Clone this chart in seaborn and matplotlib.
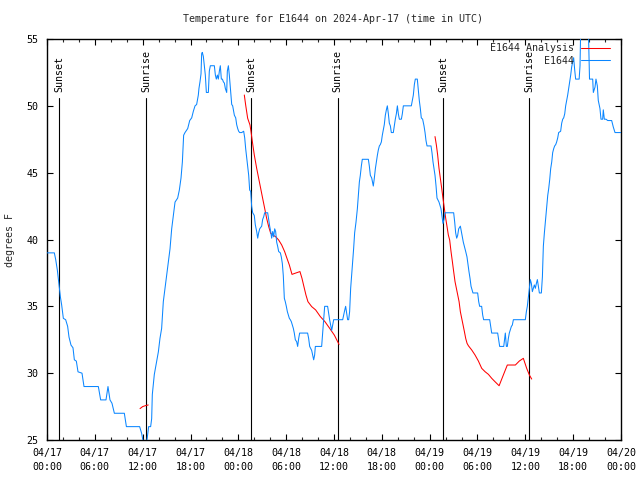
import numpy as np
import pandas as pd
import matplotlib
matplotlib.use("Agg")
import matplotlib.pyplot as plt
from matplotlib.lines import Line2D
from matplotlib.ticker import MultipleLocator, FixedLocator
import seaborn as sns

# ---------------- data ----------------
title = "Temperature for E1644 on 2024-Apr-17 (time in UTC)"
ylabel = "degrees F"
station_label = "E1644"
analysis_label = "E1644 Analysis"

xtick_hours = [0, 6, 12, 18, 24, 30, 36, 42, 48, 54, 60, 66, 72]
xtick_labels = ["04/17\n00:00", "04/17\n06:00", "04/17\n12:00", "04/17\n18:00",
                "04/18\n00:00", "04/18\n06:00", "04/18\n12:00", "04/18\n18:00",
                "04/19\n00:00", "04/19\n06:00", "04/19\n12:00", "04/19\n18:00",
                "04/20\n00:00"]
ytick_values = [25, 30, 35, 40, 45, 50, 55]

sun_event_hours = [1.55, 12.46, 25.64, 36.45, 49.72, 60.5]
sun_event_names = ["Sunset", "Sunrise", "Sunset", "Sunrise", "Sunset", "Sunrise"]

# observed station temperature (hours since 04/17 00:00 UTC, deg F)
blue_pts = [
    (0.0, 39), (0.92, 39), (1.09, 38.5), (1.3, 37.7), (1.51, 36.6), (1.68, 35.7), (1.84, 35.1),
    (2.05, 34.1), (2.34, 34), (2.59, 33.5), (2.76, 32.7), (3.01, 32.1), (3.26, 31.9), (3.43, 31),
    (3.68, 30.9), (3.89, 30.1), (4.39, 30), (4.64, 29), (6.44, 29), (6.73, 28), (7.4, 28),
    (7.65, 29), (7.9, 28), (8.15, 27.75), (8.45, 27), (9.7, 27), (9.96, 26), (11.62, 26),
    (11.87, 25.5), (12.08, 24.8), (12.45, 24.8), (12.54, 25), (12.75, 26), (13.0, 26),
    (13.13, 26.6), (13.21, 28.4), (13.46, 29.9), (13.67, 30.6), (13.97, 31.6), (14.17, 32.6),
    (14.38, 33.35), (14.59, 35.35), (14.8, 36.35), (15.22, 38.3), (15.43, 39.3), (15.64, 40.8),
    (15.85, 41.8), (16.06, 42.8), (16.39, 43.1), (16.6, 43.7), (16.81, 44.6), (16.98, 45.8),
    (17.14, 47.8), (17.31, 48), (17.65, 48.3), (17.9, 48.9), (18.15, 49.1), (18.36, 49.6),
    (18.57, 50), (18.77, 50.1), (18.98, 50.8), (19.06, 51.3), (19.19, 51.8), (19.32, 52.4),
    (19.4, 53.9), (19.48, 54), (19.61, 53.7), (19.74, 53), (19.86, 52.3), (19.99, 51),
    (20.24, 51), (20.36, 52.6), (20.49, 53), (20.99, 53), (21.12, 52.3), (21.24, 52),
    (21.37, 52.3), (21.49, 52), (21.62, 52.6), (21.74, 53), (21.87, 52), (22.0, 52),
    (22.12, 51.8), (22.25, 51.7), (22.37, 51.3), (22.54, 51), (22.62, 52.6), (22.75, 53),
    (22.87, 52.3), (23.04, 51), (23.17, 50.1), (23.29, 50), (23.5, 49.3), (23.67, 49.1),
    (23.79, 48.6), (23.92, 48.3), (24.04, 48.1), (24.17, 48), (24.42, 48), (24.67, 48.1),
    (24.8, 47.6), (24.92, 46.8), (25.05, 46.1), (25.17, 45.5), (25.3, 44.8), (25.42, 43.7),
    (25.55, 43.6), (25.67, 42.5), (25.8, 42), (26.0, 41.8), (26.13, 41.1), (26.3, 40.6),
    (26.43, 40.1), (26.55, 40.5), (26.68, 40.8), (26.93, 41), (27.05, 41.5), (27.18, 41.7),
    (27.3, 42), (27.68, 42), (27.81, 41.5), (27.93, 41), (28.06, 40.6), (28.18, 40.1),
    (28.31, 40.6), (28.43, 40.2), (28.56, 40.8), (28.68, 40.6), (28.81, 39.8), (28.93, 39.5),
    (29.06, 39.1), (29.27, 39), (29.39, 38.7), (29.52, 38.2), (29.64, 37.3), (29.77, 35.6),
    (29.89, 35.35), (30.02, 35), (30.15, 34.6), (30.27, 34.35), (30.4, 34.1), (30.52, 34),
    (30.65, 33.85), (30.77, 33.6), (30.9, 33.35), (31.02, 33), (31.15, 32.5), (31.32, 32.35),
    (31.44, 32), (31.57, 32.6), (31.69, 33), (32.69, 33), (32.82, 32.6), (32.95, 32),
    (33.2, 31.7), (33.32, 31.35), (33.45, 31), (33.57, 31.35), (33.66, 32), (34.45, 32),
    (34.58, 33), (34.7, 34), (34.83, 35), (35.2, 35), (35.33, 34.5), (35.45, 34),
    (35.58, 33.6), (35.71, 33.2), (35.83, 33.6), (35.96, 34), (37.09, 34), (37.21, 34.35),
    (37.34, 34.7), (37.46, 35), (37.59, 34.5), (37.71, 34), (37.84, 34), (37.96, 34.6),
    (38.09, 36.35), (38.21, 37.3), (38.34, 38.3), (38.46, 39.3), (38.59, 40.5), (38.76, 41.3),
    (38.93, 42.3), (39.05, 43.3), (39.18, 44.3), (39.3, 44.8), (39.43, 45.5), (39.55, 46),
    (40.31, 46), (40.43, 45.5), (40.56, 44.8), (40.73, 44.6), (40.93, 44), (41.06, 44.6),
    (41.19, 45.3), (41.31, 45.8), (41.44, 46.3), (41.56, 46.7), (41.69, 47), (41.81, 47.1),
    (41.94, 47.3), (42.06, 47.8), (42.19, 48.2), (42.31, 48.6), (42.44, 49.3), (42.57, 49.7),
    (42.69, 50), (42.82, 49.4), (42.94, 48.7), (43.07, 48.5), (43.19, 48), (43.44, 48),
    (43.57, 48.5), (43.69, 49), (43.82, 49.4), (43.95, 50), (44.07, 49.4), (44.2, 49),
    (44.45, 49), (44.57, 49.4), (44.7, 50), (45.7, 50), (45.83, 50.4), (45.95, 50.8),
    (46.08, 51.6), (46.2, 52), (46.45, 52), (46.58, 51.2), (46.7, 50.4), (46.83, 49.8),
    (46.95, 49.1), (47.12, 49), (47.29, 48.5), (47.42, 48), (47.54, 47.4), (47.67, 47),
    (48.17, 47), (48.29, 46.5), (48.42, 45.8), (48.55, 45.3), (48.67, 44.8), (48.8, 44),
    (48.92, 43.1), (49.17, 42.8), (49.42, 42.3), (49.55, 41.7), (49.67, 41.2), (49.8, 41.5),
    (49.92, 42), (51.01, 42), (51.14, 41.3), (51.26, 40.5), (51.39, 40.1), (51.51, 40.3),
    (51.64, 40.8), (51.85, 41), (51.97, 40.6), (52.1, 40.2), (52.22, 39.8), (52.35, 39.5),
    (52.52, 39.1), (52.68, 38.7), (52.81, 38.1), (52.93, 37.6), (53.06, 37.1), (53.19, 36.5),
    (53.43, 36), (54.02, 36), (54.15, 35.35), (54.27, 35), (54.52, 35), (54.65, 34.35),
    (54.77, 34), (55.53, 34), (55.65, 33.5), (55.78, 33), (56.53, 33), (56.66, 32.5),
    (56.78, 32), (57.29, 32), (57.41, 32.6), (57.49, 33), (57.62, 32), (57.74, 32),
    (57.87, 32.6), (57.99, 33), (58.25, 33.5), (58.37, 33.6), (58.5, 34), (60.0, 34),
    (60.13, 34.6), (60.25, 35), (60.38, 35.7), (60.51, 36.35), (60.63, 37), (60.76, 36.7),
    (60.88, 36.1), (61.01, 36.35), (61.13, 36.6), (61.26, 36.35), (61.38, 36.7), (61.51, 37),
    (61.63, 36.5), (61.76, 36), (62.01, 36), (62.14, 37.2), (62.26, 39.5), (62.39, 40.5),
    (62.51, 41.3), (62.68, 42.5), (62.81, 43.3), (62.93, 43.8), (63.06, 44.5), (63.18, 45.3),
    (63.31, 45.8), (63.43, 46.5), (63.56, 46.8), (63.68, 47), (63.81, 47.1), (63.93, 47.3),
    (64.06, 47.6), (64.18, 48), (64.43, 48.1), (64.56, 48.7), (64.69, 49), (64.81, 49.1),
    (64.94, 49.4), (65.06, 50), (65.19, 50.4), (65.31, 50.8), (65.44, 51.3), (65.56, 51.8),
    (65.69, 52.3), (65.81, 52.9), (65.94, 53.3), (66.06, 53.6), (66.19, 52.7), (66.31, 52),
    (66.75, 52), (66.86, 53), (66.95, 56), (67.9, 56), (68.0, 53.2), (68.05, 52), (68.45, 52),
    (68.53, 51), (68.74, 51.4), (68.86, 52), (69.03, 51.5), (69.15, 50.4), (69.36, 49.8),
    (69.49, 49), (69.7, 49), (69.78, 49.7), (69.91, 49), (70.12, 49), (70.33, 48.9),
    (70.83, 48.9), (71.04, 48.4), (71.25, 48), (72.0, 48),
]
blue_hours = [p[0] for p in blue_pts]
blue_temps = [p[1] for p in blue_pts]

# analysis (three separate runs)
red_seg1_hours = [11.67, 12.0, 12.4, 12.7]
red_seg1_temps = [27.35, 27.5, 27.58, 27.62]

red_seg2_hours = [24.75, 24.92, 25.17, 25.46, 25.59, 25.76, 26.0, 26.3, 26.55, 26.8, 27.05,
                  27.3, 27.55, 27.81, 28.06, 28.31, 28.68, 29.06, 29.44, 29.81, 30.1, 30.4,
                  30.73, 31.1, 31.73, 31.98, 32.23, 32.48, 32.73, 33.2, 33.7, 34.29, 34.87,
                  35.46, 36.04, 36.63]
red_seg2_temps = [50.81, 50.06, 49.07, 48.57, 48.07, 47.32, 46.33, 45.33, 44.58, 43.83, 43.08,
                  42.34, 41.59, 40.96, 40.46, 40.34, 40.21, 39.96, 39.59, 39.09, 38.59, 38.09,
                  37.39, 37.47, 37.6, 37.1, 36.47, 35.85, 35.35, 34.98, 34.73, 34.23, 33.85,
                  33.35, 32.85, 32.15]

red_seg3_hours = [48.67, 48.84, 49.0, 49.17, 49.34, 49.51, 49.67, 49.84, 50.01, 50.18, 50.34,
                  50.51, 50.68, 50.85, 51.01, 51.18, 51.35, 51.52, 51.69, 51.85, 52.02, 52.19,
                  52.36, 52.52, 52.69, 52.86, 53.28, 53.69, 54.11, 54.53, 54.95, 55.37, 55.79,
                  56.2, 56.71, 57.24, 57.74, 58.75, 59.25, 59.75, 60.17, 60.51, 60.8]
red_seg3_temps = [47.7, 47.07, 46.33, 45.33, 44.58, 43.83, 43.08, 42.34, 41.59, 40.96, 40.34,
                  39.96, 39.09, 38.34, 37.6, 36.85, 36.35, 35.85, 35.35, 34.6, 34.1, 33.6,
                  33.1, 32.6, 32.23, 32.05, 31.73, 31.36, 30.91, 30.36, 30.11, 29.91, 29.61,
                  29.36, 29.06, 29.86, 30.61, 30.61, 30.91, 31.11, 30.36, 29.86, 29.56]

# ---------------- style ----------------
sns.set_style("ticks")
plt.rcParams['font.family'] = ['DejaVu Sans Mono', 'DejaVu Sans']
plt.rcParams['font.size'] = 7.2

BLUE = "#0a86ff"
RED = "#ff0000"
LW = 0.75

fig = plt.figure(figsize=(6.4, 4.8), dpi=100)
ax = fig.add_axes([47 / 640, 40 / 480, 574 / 640, 401 / 480])

# sunrise / sunset markers
line_top = 0.853
for h, name in zip(sun_event_hours, sun_event_names):
    ax.axvline(h, ymin=0, ymax=line_top, color="black", lw=0.8, zorder=1)
    ax.text(h, 0.868, name, transform=ax.get_xaxis_transform(), rotation=90,
            ha="center", va="bottom", fontsize=7.2, color="black", zorder=1)

red_df = pd.concat([
    pd.DataFrame({"hour": red_seg1_hours, "temp": red_seg1_temps, "seg": 1}),
    pd.DataFrame({"hour": red_seg2_hours, "temp": red_seg2_temps, "seg": 2}),
    pd.DataFrame({"hour": red_seg3_hours, "temp": red_seg3_temps, "seg": 3}),
], ignore_index=True)
blue_df = pd.DataFrame({"hour": blue_hours, "temp": blue_temps})

sns.lineplot(data=red_df, x="hour", y="temp", units="seg", estimator=None, sort=False,
             color=RED, lw=LW, ax=ax, zorder=2, legend=False)
sns.lineplot(data=blue_df, x="hour", y="temp", estimator=None, sort=False,
             color=BLUE, lw=LW, ax=ax, zorder=3, legend=False)

ax.set_xlim(0, 72)
ax.set_ylim(25, 55)
ax.xaxis.set_major_locator(FixedLocator(xtick_hours))
ax.set_xticklabels(xtick_labels, linespacing=1.45)
ax.xaxis.set_minor_locator(MultipleLocator(2))
ax.yaxis.set_major_locator(FixedLocator(ytick_values))
ax.set_yticklabels([str(v) for v in ytick_values])

ax.tick_params(axis="both", which="major", direction="in", length=4.5, width=0.8,
               top=True, right=True, labelsize=7.2, colors="black")
ax.tick_params(axis="x", which="minor", direction="in", length=2.5, width=0.8,
               top=True, bottom=True)
ax.tick_params(axis="x", which="major", pad=6)
ax.tick_params(axis="y", which="major", pad=6)
for s in ax.spines.values():
    s.set_visible(True)
    s.set_color("black")
    s.set_linewidth(1.0)

ax.set_xlabel("")
ax.set_ylabel("")
fig.text(10 / 640, 1 - 240 / 480, ylabel, rotation=90, ha="center", va="center", fontsize=7.2)
fig.text(333 / 640, 1 - 19 / 480, title, ha="center", va="center", fontsize=7.2)

handles = [Line2D([0], [0], color=RED, lw=LW), Line2D([0], [0], color=BLUE, lw=LW)]
ax.legend(handles, [analysis_label, station_label], loc="upper right",
          bbox_to_anchor=(0.981, 0.99), frameon=False, markerfirst=False,
          handlelength=2.9, handletextpad=0.7, labelspacing=0.25, borderaxespad=0,
          borderpad=0, fontsize=7.2)

fig.savefig("out.png", dpi=100, facecolor="white")
